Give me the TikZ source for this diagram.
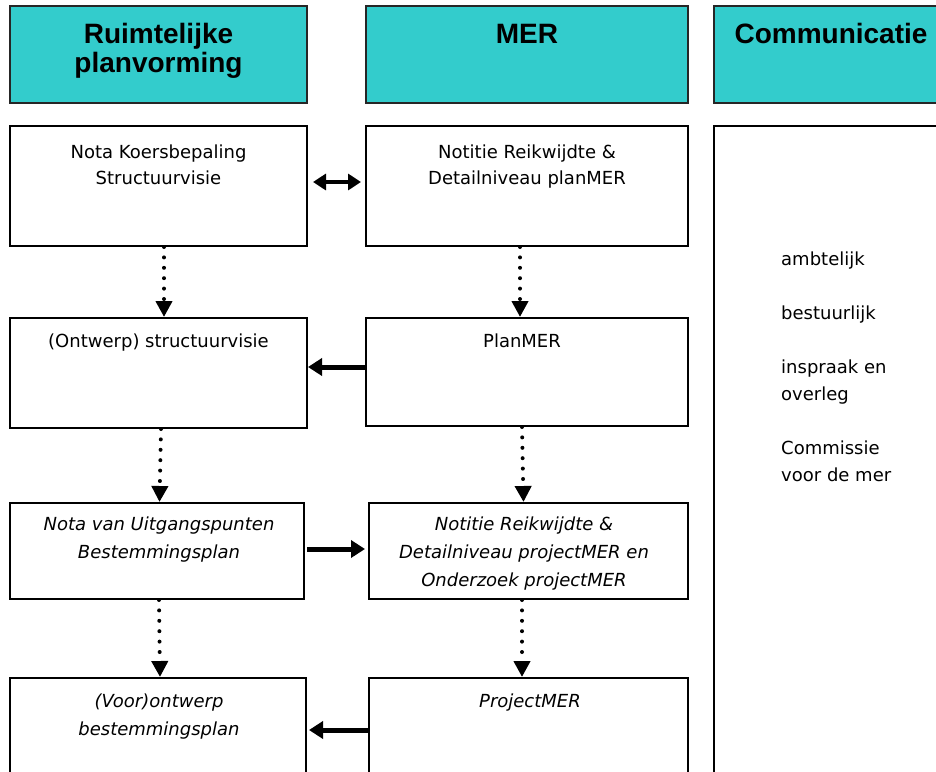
\documentclass[tikz,border=0pt]{standalone}
\usepackage{fontspec}
\setmainfont{DejaVu Sans}
\newfontfamily\hdfont{Liberation Sans}
\usetikzlibrary{arrows.meta}
\definecolor{hdcol}{RGB}{51,204,204}
\tikzset{
  box/.style={draw=black, line width=2pt, fill=white, rectangle, inner sep=0pt},
  hbox/.style={draw=black!85, line width=2pt, fill=hdcol, rectangle, inner sep=0pt},
  htxt/.style={font=\hdfont\bfseries\fontsize{28}{29.5}\selectfont, align=center, anchor=base, inner sep=0pt},
  btxt/.style={font=\fontsize{18}{26.5}\selectfont, align=center, anchor=base, inner sep=0pt},
  itxt/.style={font=\itshape\fontsize{18}{28}\selectfont, align=center, anchor=base, inner sep=0pt},
  ctxt/.style={font=\fontsize{18}{27}\selectfont, align=left, anchor=base west, inner sep=0pt},
  harrow/.style={line width=5pt, -{Triangle[length=14pt,width=17pt]}},
  darrow/.style={line width=4.5pt, {Triangle[length=13pt,width=16pt]}-{Triangle[length=13pt,width=16pt]}},
  varrow/.style={line width=4pt, dash pattern=on 0pt off 10.4pt, line cap=round, -{Triangle[length=16pt,width=16pt]}}
}
\begin{document}
\begin{tikzpicture}[x=1pt,y=-1pt]
\useasboundingbox (0,0) rectangle (936,771);
\clip (0,0) rectangle (936,771);
% headers
\node[hbox, minimum width=297pt, minimum height=97pt] (h1) at (158.5,54.5) {};
\node[hbox, minimum width=322pt, minimum height=97pt] (h2) at (527,54.5) {};
\node[hbox, minimum width=236pt, minimum height=97pt] (h3) at (832,54.5) {};
\node[htxt] (h1t) at (158.5,72.5) {Ruimtelijke\\planvorming};
\node[htxt] (h2t) at (527,43) {MER};
\node[htxt] (h3t) at (831,43) {Communicatie};
% boxes
\node[box, minimum width=297pt, minimum height=120pt] (a1) at (158.5,186) {};
\node[box, minimum width=322pt, minimum height=120pt] (b1) at (527,186) {};
\node[box, minimum width=236pt, minimum height=674pt] (c) at (832,463) {};
\node[box, minimum width=297pt, minimum height=110pt] (a2) at (158.5,373) {};
\node[box, minimum width=322pt, minimum height=108pt] (b2) at (527,372) {};
\node[box, minimum width=294pt, minimum height=96pt] (a3) at (157,551) {};
\node[box, minimum width=319pt, minimum height=96pt] (b3) at (528.5,551) {};
\node[box, minimum width=296pt, minimum height=122pt] (a4) at (158,739) {};
\node[box, minimum width=319pt, minimum height=122pt] (b4) at (528.5,739) {};
% texts (anchor base = baseline of last line)
\node[btxt] (a1t) at (158.5,184.5) {Nota Koersbepaling\\Structuurvisie};
\node[btxt] (b1t) at (527,184.5) {Notitie Reikwijdte \&\\Detailniveau planMER};
\node[btxt] (a2t) at (158.5,347) {(Ontwerp) structuurvisie};
\node[btxt] (b2t) at (522,347) {PlanMER};
\node[itxt] (a3t) at (159,558) {Nota van Uitgangspunten\\Bestemmingsplan};
\node[itxt] (b3t) at (524,586) {Notitie Reikwijdte \&\\Detailniveau projectMER en\\Onderzoek projectMER};
\node[itxt] (a4t) at (159,735) {(Voor)ontwerp\\bestemmingsplan};
\node[itxt] (b4t) at (530,707) {ProjectMER};
\node[ctxt] (c1) at (781,265) {ambtelijk};
\node[ctxt] (c2) at (781,319) {bestuurlijk};
\node[ctxt] (c3) at (781,400) {inspraak en\\overleg};
\node[ctxt] (c4) at (781,481) {Commissie\\voor de mer};
% horizontal arrows
\draw[darrow] ([xshift=5pt,yshift=4pt]a1.east) -- ([xshift=-4pt,yshift=4pt]b1.west);
\draw[harrow] ([yshift=5pt]b2.west) -- ([yshift=6pt]a2.east);
\draw[harrow] ([xshift=2pt,yshift=2pt]a3.east) -- ([xshift=-3pt,yshift=2pt]b3.west);
\draw[harrow] ([yshift=9pt]b4.west) -- ([xshift=2pt,yshift=9pt]a4.east);
% vertical dotted arrows
\draw[varrow] ([xshift=5.5pt]a1.south) -- ([xshift=5.5pt]a2.north);
\draw[varrow] ([xshift=2.5pt]a2.south) -- ([xshift=2.5pt]a3.north);
\draw[varrow] ([xshift=2pt]a3.south) -- ([xshift=2pt]a4.north);
\draw[varrow] ([xshift=-7pt]b1.south) -- ([xshift=-7pt]b2.north);
\draw[varrow] ([xshift=-5pt]b2.south) -- ([xshift=-5pt]b3.north);
\draw[varrow] ([xshift=-6.5pt]b3.south) -- ([xshift=-6.5pt]b4.north);
\end{tikzpicture}
\end{document}
